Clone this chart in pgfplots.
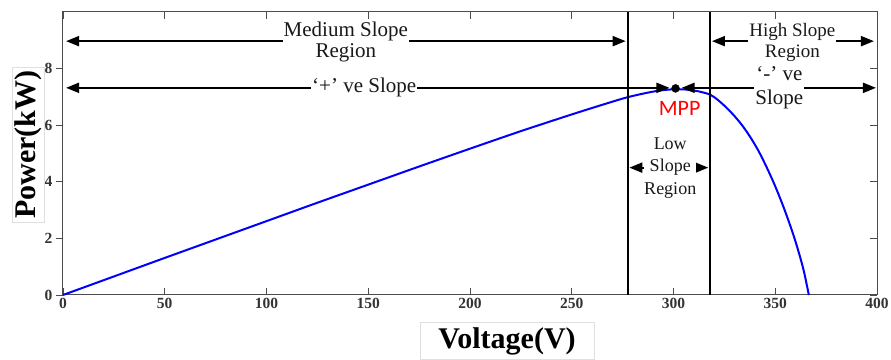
\documentclass[border=0pt]{standalone}
\usepackage{pgfplots}
\pgfplotsset{compat=1.18}
\usepackage{fontspec}
\setmainfont{Liberation Serif}
\newfontfamily\mppfont{Carlito}
\usetikzlibrary{arrows.meta,shadows}
\begin{document}
\begin{tikzpicture}[
  arr/.style={line width=2pt, black, {Triangle[length=13pt,width=10pt]}-{Triangle[length=13pt,width=10pt]}},
  lbl/.style={fill=white, align=center, text=black!90, inner sep=1pt}
]
\begin{axis}[
  scale only axis, width=814pt, height=283pt,
  xmin=0, xmax=400, ymin=0, ymax=10,
  xtick={0,50,...,400}, ytick={0,2,4,6,8},
  xtick align=inside, ytick align=outside, ytick pos=left,
  major tick length=7pt,
  tick style={gray!60!black, line width=0.8pt},
  axis line style={gray!60!black, line width=1pt},
  /pgf/number format/assume math mode=true,
  tick label style={font=\bfseries\fontsize{15.5}{15.5}\selectfont, text=black!80},
  clip=false,
]
\addplot[blue, line width=2pt, smooth] coordinates {
(0,0) (25,0.655) (50,1.31) (75,1.96) (100,2.61) (125,3.26) (150,3.90) (175,4.54)
(200,5.17) (225,5.79) (250,6.38) (265,6.72) (277,6.98) (288,7.16) (295,7.24)
(301,7.27) (306,7.26) (312,7.20) (318,7.08) (322,6.88) (326,6.62) (330,6.32)
(334,5.97) (338,5.55) (342,5.06) (346,4.48) (350,3.84) (354,3.12) (358,2.32)
(361,1.64) (364,0.86) (366.5,0)};
\addplot[black, line width=2pt] coordinates {(277.4,0) (277.4,10)};
\addplot[black, line width=2pt] coordinates {(318,0) (318,10)};
% arrows
\draw[arr] (axis cs:1.5,8.97) -- (axis cs:276.5,8.97);
\draw[arr] (axis cs:318.9,8.97) -- (axis cs:398.5,8.97);
\draw[arr] (axis cs:1.5,7.32) -- (axis cs:298,7.32);
\draw[arr] (axis cs:304,7.32) -- (axis cs:399.5,7.32);
\draw[arr] (axis cs:278.3,4.5) -- (axis cs:317.1,4.5);
\addplot[only marks, mark=*, mark size=4pt, black] coordinates {(301,7.3)};
% labels
\node[lbl, font=\fontsize{21}{21}\selectfont] at (axis cs:139,8.94) {Medium Slope\\Region};
\node[lbl, font=\fontsize{19}{21}\selectfont] at (axis cs:358.4,8.94) {High Slope\\Region};
\node[lbl, font=\fontsize{21}{21}\selectfont] at (axis cs:148,7.32) {‘+’ ve Slope};
\node[lbl, font=\fontsize{21}{24}\selectfont] at (axis cs:352,7.32) {‘-’ ve\\Slope};
\node[lbl, font=\fontsize{18}{22.5}\selectfont, inner sep=0pt] at (axis cs:298.4,4.5) {Low\\Slope\\Region};
\node[text=red, font=\mppfont\fontsize{22}{22}\selectfont] at (axis cs:303,6.58) {MPP};
% axis titles
\node[rotate=90, draw=gray!25, fill=white, drop shadow={opacity=0.12, shadow xshift=1pt, shadow yshift=-1pt},
  minimum width=155pt, minimum height=32pt, inner sep=0pt, font=\bfseries\fontsize{30}{30}\selectfont]
  at ([xshift=-35pt]axis cs:0,5.31) {Power(kW)};
\node[draw=gray!25, fill=white, drop shadow={opacity=0.12, shadow xshift=1pt, shadow yshift=-1pt},
  minimum width=174pt, minimum height=37pt, inner sep=0pt, font=\bfseries\fontsize{30}{30}\selectfont]
  at ([yshift=-46pt]axis cs:218.2,0) {Voltage(V)};
\coordinate (bl) at (rel axis cs:0,0);
\coordinate (tr) at (rel axis cs:1,1);
\end{axis}
\begin{axis}[
  scale only axis, width=814pt, height=283pt,
  xmin=0, xmax=400, ymin=0, ymax=10,
  axis x line=none, axis y line*=right,
  ytick={0,2,4,6,8}, yticklabels={}, ytick align=inside,
  major tick length=7pt,
  tick style={gray!60!black, line width=0.8pt},
  axis line style={gray!60!black, line width=1pt},
]
\end{axis}
\pgfresetboundingbox
\path[use as bounding box] ([shift={(-63pt,-65pt)}]bl) rectangle ([shift={(14pt,12pt)}]tr);
\end{tikzpicture}
\end{document}
